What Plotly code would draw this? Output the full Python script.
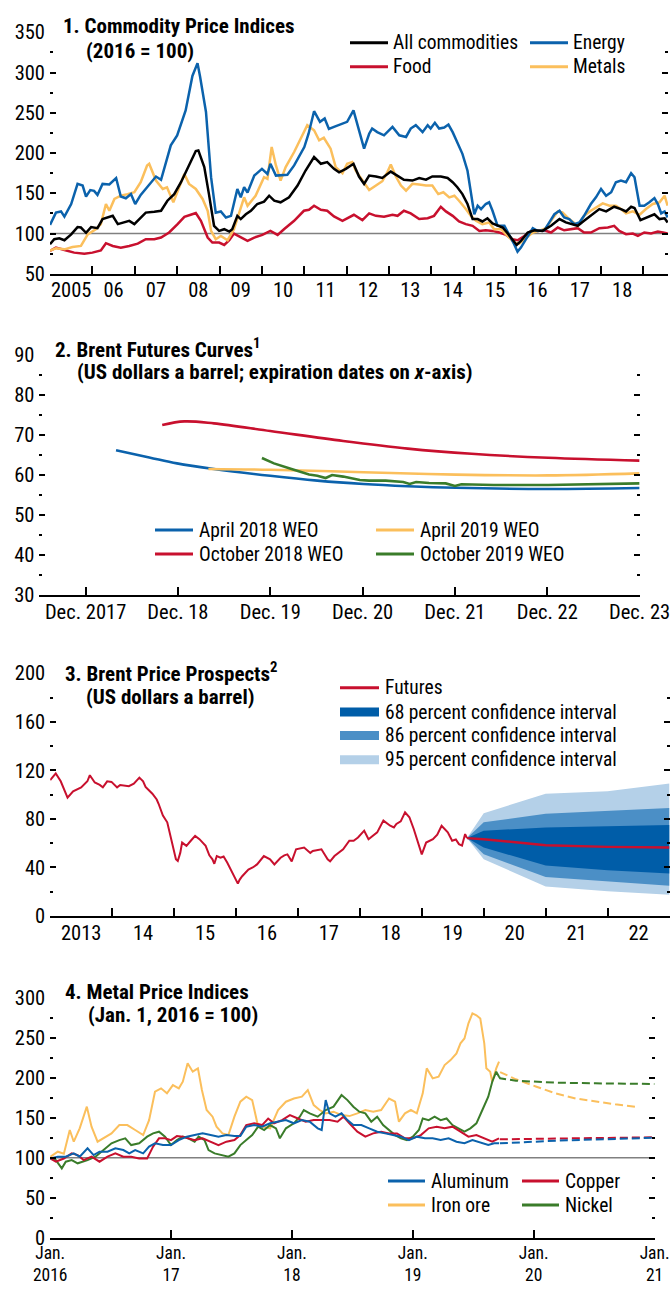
import plotly.graph_objects as go

W, H = 670, 1289
FONT = "Roboto Condensed, Liberation Sans Narrow, Arial Narrow, sans-serif"
TICK_SIZE = 20.5
DATE_SIZE = 17.5
TITLE_SIZE = 21
KEY_SIZE = 19.5

C_BLACK = "#000000"
C_BLUE = "#0b62ac"
C_RED = "#c8102e"
C_ORANGE = "#fbbf5c"
C_GREEN = "#3a7c2a"
C_GRAY = "#808080"
C_FAN68 = "#005da8"
C_FAN86 = "#4b8fc6"
C_FAN95 = "#b4d0e8"

# ---------------------------------------------------------------- panel 1 data
# (decimal year, index 2016 = 100)
ALL_COMMODITIES = [
    (2005.0, 86.7), (2005.1, 93), (2005.22, 94), (2005.34, 91.7), (2005.5, 99), (2005.65, 108),
    (2005.73, 107.5), (2005.85, 101), (2005.97, 108), (2006.12, 106.7), (2006.24, 118), (2006.36, 120),
    (2006.48, 122), (2006.6, 111.7), (2006.75, 113.8), (2006.87, 115.8), (2006.99, 111.7), (2007.14, 120),
    (2007.26, 126), (2007.46, 127), (2007.62, 128.3), (2007.77, 140.8), (2007.93, 149), (2008.09, 163.8),
    (2008.28, 184.6), (2008.44, 202.5), (2008.5, 203.3), (2008.64, 182.5), (2008.75, 149), (2008.87, 109.6),
    (2008.99, 103.3), (2009.11, 105.4), (2009.23, 102.5), (2009.3, 105.4), (2009.42, 122), (2009.5, 118),
    (2009.62, 124), (2009.74, 128.3), (2009.89, 136.7), (2010.05, 139.6), (2010.17, 147), (2010.29, 140.8),
    (2010.44, 138.8), (2010.64, 145), (2010.84, 159.6), (2011.03, 178.3), (2011.23, 195), (2011.39, 186.7),
    (2011.54, 188.8), (2011.7, 180.4), (2011.82, 176), (2011.98, 180.4), (2012.16, 186.7), (2012.29, 170.8),
    (2012.41, 161.7), (2012.53, 172), (2012.69, 170.8), (2012.84, 169), (2013.04, 177), (2013.2, 172),
    (2013.35, 166.7), (2013.55, 165.8), (2013.71, 169), (2013.87, 167), (2014.02, 171), (2014.22, 170.8),
    (2014.38, 169), (2014.5, 163.8), (2014.61, 157.5), (2014.73, 149), (2014.85, 136.7), (2014.97, 118),
    (2015.09, 118), (2015.2, 115), (2015.32, 119), (2015.44, 112.5), (2015.56, 109.6), (2015.68, 107.5),
    (2015.8, 100), (2015.91, 93), (2016.01, 85.8), (2016.11, 90.8), (2016.27, 101.3), (2016.43, 104),
    (2016.62, 103.3), (2016.82, 109.6), (2017.02, 118), (2017.17, 113.8), (2017.33, 111.7), (2017.45, 109.6),
    (2017.6, 115.8), (2017.76, 122), (2017.96, 130.4), (2018.12, 127.5), (2018.31, 133.3), (2018.47, 130.4),
    (2018.59, 127.5), (2018.71, 133.3), (2018.79, 131.7), (2018.93, 116.7), (2019.1, 120), (2019.26, 124),
    (2019.38, 118), (2019.5, 119), (2019.57, 113.8),
]
ENERGY = [
    (2005.0, 110.8), (2005.14, 126), (2005.26, 127.5), (2005.34, 121), (2005.5, 136.7), (2005.65, 161.7),
    (2005.77, 159.6), (2005.85, 145.8), (2005.95, 154), (2006.04, 153), (2006.12, 148), (2006.24, 161.7),
    (2006.4, 161), (2006.56, 169), (2006.67, 146), (2006.79, 143.8), (2006.91, 149), (2007.01, 136.7),
    (2007.14, 148), (2007.3, 158), (2007.5, 170.8), (2007.62, 166.7), (2007.85, 209.6), (2008.0, 222),
    (2008.2, 253), (2008.36, 295.8), (2008.48, 311.7), (2008.54, 295), (2008.68, 251), (2008.8, 170),
    (2008.91, 126), (2009.03, 127.5), (2009.15, 120), (2009.27, 122), (2009.42, 155.4), (2009.5, 145),
    (2009.58, 157.5), (2009.66, 151), (2009.82, 172), (2010.0, 180.4), (2010.13, 174), (2010.2, 186.7),
    (2010.33, 172), (2010.6, 173), (2010.76, 184.6), (2011.0, 207.5), (2011.1, 224), (2011.23, 252),
    (2011.37, 238.8), (2011.48, 243), (2011.58, 230), (2011.7, 232.5), (2011.82, 234.6), (2012.01, 238.8),
    (2012.16, 253), (2012.25, 236.7), (2012.41, 205.4), (2012.53, 224), (2012.6, 230.4), (2012.72, 226),
    (2012.88, 222), (2013.08, 232.5), (2013.24, 222), (2013.4, 220), (2013.51, 230.4), (2013.63, 234.6),
    (2013.79, 226), (2013.91, 234.6), (2013.98, 230.4), (2014.08, 237.5), (2014.18, 230.4), (2014.3, 231.7),
    (2014.4, 235.4), (2014.5, 226), (2014.63, 211.7), (2014.73, 199), (2014.85, 178), (2014.93, 153),
    (2015.01, 124), (2015.09, 134.6), (2015.17, 130.4), (2015.28, 136.7), (2015.36, 138.8), (2015.44, 128.3),
    (2015.56, 109.6), (2015.72, 109.6), (2015.83, 99), (2015.95, 86.7), (2016.03, 77.5), (2016.11, 82.5),
    (2016.23, 93), (2016.39, 106.7), (2016.5, 103.3), (2016.66, 104), (2016.78, 113.8), (2016.9, 124),
    (2017.02, 128.3), (2017.13, 120), (2017.25, 118), (2017.37, 111.7), (2017.49, 113.8), (2017.6, 122),
    (2017.76, 136.7), (2017.88, 145), (2018.0, 155.4), (2018.12, 147), (2018.24, 151.3), (2018.35, 163.8),
    (2018.47, 165.8), (2018.59, 163.8), (2018.71, 175), (2018.79, 170), (2018.91, 134.6), (2019.02, 134.6),
    (2019.14, 138.8), (2019.26, 144), (2019.34, 136.7), (2019.42, 125), (2019.5, 127.5), (2019.57, 120),
]
FOOD = [
    (2005.0, 78.3), (2005.14, 82.5), (2005.34, 79.6), (2005.57, 76.3), (2005.81, 75), (2006.0, 76.3),
    (2006.2, 79), (2006.32, 88), (2006.48, 84.6), (2006.67, 82.5), (2006.87, 84.6), (2007.07, 87.5),
    (2007.26, 93), (2007.46, 93), (2007.62, 95), (2007.81, 101.3), (2008.01, 111.7), (2008.17, 120.8),
    (2008.32, 123.3), (2008.44, 125.4), (2008.56, 115.8), (2008.72, 95), (2008.83, 88.8), (2008.99, 88.8),
    (2009.11, 85.8), (2009.23, 91.7), (2009.34, 100), (2009.5, 95), (2009.66, 90.8), (2009.82, 95),
    (2010.01, 98.3), (2010.2, 103.3), (2010.37, 98.3), (2010.52, 105.4), (2010.76, 115.8), (2010.99, 128.3),
    (2011.11, 129.6), (2011.23, 134.6), (2011.39, 129.6), (2011.54, 128.3), (2011.7, 121.3), (2011.9, 115.8),
    (2012.05, 120), (2012.17, 123.3), (2012.37, 116.7), (2012.53, 125), (2012.69, 122), (2012.88, 120.8),
    (2013.08, 123.3), (2013.2, 122), (2013.35, 128.3), (2013.51, 125), (2013.71, 118), (2013.91, 119),
    (2014.06, 122), (2014.22, 133.3), (2014.34, 127.5), (2014.5, 122), (2014.65, 115), (2014.81, 111.7),
    (2014.97, 109.6), (2015.13, 103.3), (2015.28, 104), (2015.44, 103.3), (2015.6, 101.3), (2015.76, 98.3),
    (2015.91, 93), (2016.03, 91.7), (2016.19, 97), (2016.35, 103.3), (2016.5, 103.3), (2016.66, 104),
    (2016.82, 101.3), (2016.98, 107.5), (2017.13, 104), (2017.29, 105.4), (2017.45, 106.7), (2017.6, 101.3),
    (2017.76, 101.3), (2017.96, 106.7), (2018.16, 107.5), (2018.31, 109.6), (2018.43, 103.3), (2018.59, 99.2),
    (2018.75, 100), (2018.87, 97), (2019.02, 101.3), (2019.18, 100), (2019.34, 102.5), (2019.46, 101.3),
    (2019.57, 100),
]
METALS = [
    (2005.0, 79), (2005.14, 81.7), (2005.34, 80.4), (2005.53, 83.3), (2005.73, 84.6), (2005.89, 99),
    (2006.08, 105.4), (2006.2, 111.7), (2006.32, 136.7), (2006.4, 128.3), (2006.52, 143), (2006.67, 147),
    (2006.83, 149), (2006.99, 151.3), (2007.14, 163.8), (2007.29, 184.6), (2007.34, 186.7), (2007.5, 165.8),
    (2007.66, 155.4), (2007.76, 157.5), (2007.91, 138.8), (2008.01, 153), (2008.17, 174), (2008.28, 161.7),
    (2008.44, 155.4), (2008.6, 143), (2008.72, 128.3), (2008.8, 103.3), (2008.91, 93), (2009.03, 97),
    (2009.19, 91.7), (2009.34, 105.4), (2009.5, 132.5), (2009.58, 145), (2009.66, 134.6), (2009.85, 147),
    (2010.05, 170), (2010.13, 168), (2010.23, 207.5), (2010.33, 184.6), (2010.44, 165.8), (2010.56, 182.5),
    (2010.76, 201.3), (2010.95, 222), (2011.07, 234.6), (2011.23, 228.3), (2011.35, 215.8), (2011.46, 219),
    (2011.62, 205.4), (2011.74, 182.5), (2011.9, 175), (2012.01, 186.7), (2012.13, 188.8), (2012.21, 178.3),
    (2012.37, 165.8), (2012.53, 154), (2012.69, 159.6), (2012.84, 165), (2012.96, 176.3), (2013.04, 185.8),
    (2013.16, 170.8), (2013.28, 159.6), (2013.4, 153.3), (2013.55, 161.7), (2013.71, 160.8), (2013.87, 159.6),
    (2014.02, 159.6), (2014.16, 149), (2014.28, 151.3), (2014.42, 145), (2014.54, 147), (2014.65, 140.8),
    (2014.81, 130.4), (2014.93, 122), (2015.05, 115.8), (2015.2, 111.7), (2015.36, 113.8), (2015.48, 105.4),
    (2015.64, 105.4), (2015.8, 97), (2015.95, 88.8), (2016.07, 87.5), (2016.23, 95), (2016.39, 101.3),
    (2016.54, 103.3), (2016.7, 106.7), (2016.82, 115.8), (2016.98, 127.5), (2017.09, 126.3), (2017.25, 118),
    (2017.45, 109.6), (2017.6, 122), (2017.76, 128.3), (2017.88, 132.5), (2018.04, 137.5), (2018.2, 134.6),
    (2018.35, 134.6), (2018.47, 130.4), (2018.59, 125), (2018.75, 127.5), (2018.91, 123.3), (2019.06, 130.4),
    (2019.22, 136.7), (2019.38, 138.8), (2019.5, 147), (2019.57, 134.6),
]
P1_YEARS = list(range(2005, 2020))
P1_LABELS = ["2005", "06", "07", "08", "09", "10", "11", "12", "13", "14", "15", "16", "17", "18"]

# ---------------------------------------------------------------- panel 2 data
# (expiration date as decimal year, US dollars a barrel)
APR_2018_WEO = [(2018.25, 66.2), (2018.61, 64.4), (2018.91, 62.9), (2019.31, 61.5), (2019.92, 59.8),
                (2020.43, 58.6), (2020.93, 57.75), (2021.41, 57.2), (2021.93, 56.8), (2022.93, 56.5),
                (2023.92, 56.75)]
OCT_2018_WEO = [(2018.75, 72.5), (2018.99, 73.4), (2019.31, 72.9), (2019.92, 71.0), (2020.71, 68.5),
                (2021.41, 66.6), (2022.1, 65.3), (2022.93, 64.3), (2023.92, 63.6)]
APR_2019_WEO = [(2019.25, 61.5), (2019.92, 61.3), (2020.93, 60.7), (2021.93, 60.1), (2022.93, 59.9),
                (2023.92, 60.4)]
OCT_2019_WEO = [(2019.83, 64.25), (2019.96, 62.9), (2020.15, 61.5), (2020.34, 60.1), (2020.43, 59.8),
                (2020.52, 59.25), (2020.59, 60.0), (2020.71, 59.6), (2020.89, 58.75), (2020.99, 58.6),
                (2021.17, 58.6), (2021.36, 58.25), (2021.43, 57.75), (2021.5, 58.25), (2021.64, 58.0),
                (2021.82, 57.9), (2021.92, 57.25), (2021.99, 57.7), (2022.34, 57.5), (2022.93, 57.5),
                (2023.92, 57.9)]
P2_DECEMBERS = [2017.92, 2018.92, 2019.92, 2020.92, 2021.92, 2022.92, 2023.92]
P2_LABELS = ["Dec. 2017", "Dec. 18", "Dec. 19", "Dec. 20", "Dec. 21", "Dec. 22", "Dec. 23"]

# ---------------------------------------------------------------- panel 3 data
BRENT = [
    (2013.0, 112), (2013.09, 117.5), (2013.17, 111), (2013.23, 104), (2013.28, 97.5), (2013.37, 102.8),
    (2013.5, 106), (2013.6, 111), (2013.64, 116), (2013.72, 110), (2013.8, 108), (2013.85, 106),
    (2013.92, 111), (2013.99, 110.5), (2014.08, 106), (2014.13, 108), (2014.27, 107), (2014.35, 109),
    (2014.44, 114), (2014.5, 111), (2014.54, 106.4), (2014.65, 100.8), (2014.72, 96), (2014.75, 92.5),
    (2014.82, 82.8), (2014.89, 77.2), (2014.96, 60.5), (2015.03, 46.7), (2015.06, 45.3), (2015.1, 52),
    (2015.13, 60.5), (2015.2, 57.8), (2015.27, 62), (2015.34, 66), (2015.41, 63.3), (2015.51, 57.8),
    (2015.57, 50), (2015.62, 46.7), (2015.65, 43), (2015.69, 49.4), (2015.75, 48), (2015.8, 49),
    (2015.86, 43.9), (2015.96, 34.2), (2016.03, 26.7), (2016.06, 30), (2016.1, 32.8), (2016.2, 38.3),
    (2016.27, 40), (2016.34, 42.5), (2016.45, 49.4), (2016.55, 46.7), (2016.62, 42.5), (2016.72, 48),
    (2016.78, 50), (2016.83, 50.8), (2016.9, 45), (2016.97, 55), (2017.1, 56.4), (2017.2, 52),
    (2017.24, 53.6), (2017.38, 55), (2017.48, 46.7), (2017.52, 45), (2017.59, 49.4), (2017.73, 55),
    (2017.83, 62), (2017.9, 62), (2017.97, 64.7), (2018.07, 70.3), (2018.14, 63.3), (2018.28, 68.9),
    (2018.38, 78.6), (2018.49, 74.4), (2018.55, 73), (2018.59, 75.8), (2018.66, 78), (2018.73, 85.5),
    (2018.8, 81.4), (2018.87, 71.7), (2018.94, 60.5), (2018.97, 54), (2019.0, 50.8), (2019.07, 60.5),
    (2019.18, 63.3), (2019.25, 67), (2019.32, 74.4), (2019.42, 68.9), (2019.49, 62), (2019.55, 63),
    (2019.6, 59.2), (2019.65, 58), (2019.7, 67.5), (2019.73, 64.2),
]
FAN_T = [2019.73, 2020.0, 2021.0, 2022.0, 2023.0]
FUTURES = [64.2, 63.3, 58.3, 57.0, 56.4]
CI68_HI = [64.2, 70.3, 73.0, 73.9, 75.0]
CI68_LO = [64.2, 56.4, 41.7, 37.8, 35.0]
CI86_HI = [64.2, 77.2, 84.2, 86.4, 88.9]
CI86_LO = [64.2, 50.8, 32.2, 28.6, 25.0]
CI95_HI = [64.2, 84.7, 100.8, 102.8, 109.2]
CI95_LO = [64.2, 46.7, 24.4, 20.3, 17.5]
P3_YEARS = list(range(2013, 2024))
P3_LABELS = ["2013", "14", "15", "16", "17", "18", "19", "20", "21", "22"]

# ---------------------------------------------------------------- panel 4 data
# (decimal year, index Jan. 1, 2016 = 100); *_FCST are the dashed projections
ALUMINUM = [
    (2016.0, 99), (2016.063, 101.3), (2016.129, 101.3), (2016.195, 105.4), (2016.244, 101.3), (2016.309, 111.7),
    (2016.359, 103.3), (2016.408, 107.5), (2016.474, 107.5), (2016.539, 111.7), (2016.605, 109.6),
    (2016.654, 105.4), (2016.703, 109.6), (2016.769, 105.4), (2016.818, 113.8), (2016.867, 118),
    (2016.933, 115.8), (2016.999, 115.8), (2017.064, 122), (2017.13, 126.3), (2017.195, 128.3),
    (2017.261, 130.4), (2017.327, 128.3), (2017.392, 126.3), (2017.458, 128.3), (2017.524, 127),
    (2017.573, 127), (2017.622, 138.8), (2017.688, 140.8), (2017.753, 138.8), (2017.819, 143),
    (2017.885, 145), (2017.95, 147), (2018.016, 143), (2018.082, 147), (2018.147, 145), (2018.213, 136.7),
    (2018.246, 134.6), (2018.279, 172), (2018.311, 155.4), (2018.36, 151.3), (2018.41, 155.4),
    (2018.459, 147), (2018.508, 140.8), (2018.574, 140.8), (2018.639, 136.7), (2018.705, 132.5),
    (2018.771, 130.4), (2018.836, 128.3), (2018.902, 126.3), (2018.968, 122), (2019.033, 126.3),
    (2019.099, 124.2), (2019.164, 124.2), (2019.23, 122), (2019.296, 124.2), (2019.361, 120),
    (2019.427, 118), (2019.493, 122), (2019.558, 118.75), (2019.624, 115.8), (2019.673, 118), (2019.713, 118),
]
ALUMINUM_FCST = [(2019.72, 118), (2020.2, 121.3), (2021.0, 125)]
COPPER = [
    (2016.0, 99), (2016.047, 95), (2016.113, 99), (2016.178, 105.4), (2016.227, 103.3), (2016.277, 97),
    (2016.342, 101.3), (2016.408, 95), (2016.474, 101.3), (2016.539, 105.4), (2016.605, 101.3),
    (2016.67, 101.3), (2016.736, 99), (2016.802, 99), (2016.851, 113.8), (2016.9, 124.2), (2016.95, 124.2),
    (2016.999, 122), (2017.048, 127), (2017.097, 126.3), (2017.146, 124), (2017.195, 122), (2017.261, 124.2),
    (2017.327, 120), (2017.392, 115.8), (2017.458, 120), (2017.524, 122), (2017.573, 128.3),
    (2017.622, 140.8), (2017.688, 143), (2017.753, 140.8), (2017.803, 149), (2017.852, 143),
    (2017.918, 147), (2017.983, 153.3), (2018.049, 149), (2018.114, 145), (2018.18, 147), (2018.246, 147),
    (2018.311, 147), (2018.377, 145), (2018.426, 151.3), (2018.475, 143), (2018.541, 132.5),
    (2018.607, 126.3), (2018.672, 130.4), (2018.738, 132.5), (2018.803, 130.4), (2018.869, 130.4),
    (2018.935, 124.2), (2019.0, 124.2), (2019.066, 128.3), (2019.131, 136.7), (2019.197, 138.8),
    (2019.263, 136.7), (2019.328, 138.8), (2019.394, 132.5), (2019.46, 126.3), (2019.526, 128.3),
    (2019.591, 124.2), (2019.657, 120), (2019.713, 124.2),
]
COPPER_FCST = [(2019.72, 123), (2020.5, 124.2), (2021.0, 125.5)]
IRON_ORE = [
    (2016.0, 101), (2016.063, 107.5), (2016.113, 105), (2016.162, 134.6), (2016.195, 120), (2016.244, 136.7),
    (2016.303, 163.8), (2016.342, 138.8), (2016.392, 120), (2016.441, 124), (2016.507, 130.4),
    (2016.572, 140.8), (2016.638, 140.8), (2016.703, 134.6), (2016.769, 128.3), (2016.818, 147),
    (2016.867, 182.5), (2016.917, 186.7), (2016.966, 180.4), (2017.015, 190.8), (2017.064, 186.7),
    (2017.097, 195), (2017.137, 218), (2017.179, 207.5), (2017.222, 211.7), (2017.255, 184.6),
    (2017.294, 159.6), (2017.343, 151.3), (2017.376, 138.8), (2017.425, 130.4), (2017.474, 128.3),
    (2017.524, 151.3), (2017.573, 170), (2017.622, 176.3), (2017.671, 172), (2017.714, 143),
    (2017.753, 138.8), (2017.819, 136.7), (2017.885, 159.6), (2017.95, 170), (2018.016, 174),
    (2018.082, 176.3), (2018.131, 184.6), (2018.18, 165.8), (2018.229, 159.6), (2018.279, 155.4),
    (2018.344, 157.5), (2018.41, 153.3), (2018.475, 152), (2018.541, 155.4), (2018.607, 159.6),
    (2018.672, 157.5), (2018.738, 159.6), (2018.803, 174), (2018.853, 170), (2018.885, 145),
    (2018.935, 155.4), (2018.984, 159.6), (2019.033, 155.4), (2019.082, 180.4), (2019.115, 211.7),
    (2019.164, 199.2), (2019.213, 201.3), (2019.263, 215.8), (2019.312, 222), (2019.361, 230.4),
    (2019.394, 243), (2019.427, 249), (2019.46, 268), (2019.493, 280.4), (2019.526, 278), (2019.558, 274),
    (2019.591, 243), (2019.608, 211.7), (2019.64, 207.5), (2019.657, 195), (2019.69, 211.7), (2019.713, 220),
]
IRON_ORE_FCST = [(2019.722, 207), (2019.853, 198), (2020.017, 189), (2020.182, 180.4), (2020.346, 174),
                 (2020.51, 170), (2020.674, 166.7), (2020.838, 163.8)]
NICKEL = [
    (2016.0, 99.2), (2016.047, 97), (2016.096, 86.7), (2016.129, 95), (2016.178, 97), (2016.227, 93),
    (2016.309, 97), (2016.375, 101.3), (2016.441, 109.6), (2016.507, 118), (2016.572, 122), (2016.621, 124.2),
    (2016.67, 115.8), (2016.736, 118), (2016.802, 126.3), (2016.851, 130.4), (2016.9, 132.5), (2016.95, 126.3),
    (2016.999, 115.8), (2017.048, 122), (2017.097, 126.3), (2017.146, 124), (2017.195, 120), (2017.228, 126.3),
    (2017.277, 122), (2017.31, 109.6), (2017.36, 105.4), (2017.425, 103.3), (2017.474, 101.3),
    (2017.524, 105.4), (2017.573, 115.8), (2017.622, 122), (2017.671, 128.3), (2017.72, 138.8),
    (2017.77, 134.6), (2017.819, 140.8), (2017.868, 136.7), (2017.9, 124.2), (2017.95, 136.7),
    (2018.016, 143), (2018.065, 151.3), (2018.098, 159.6), (2018.147, 155.4), (2018.213, 151.3),
    (2018.279, 159.6), (2018.344, 163.8), (2018.41, 178.3), (2018.459, 172), (2018.508, 163.8),
    (2018.557, 157.5), (2018.607, 155.4), (2018.656, 145), (2018.705, 151.3), (2018.754, 140.8),
    (2018.803, 134.6), (2018.853, 128.3), (2018.902, 124.2), (2018.951, 122), (2019.0, 126.3),
    (2019.05, 134.6), (2019.082, 149), (2019.131, 147), (2019.18, 151.3), (2019.23, 147), (2019.279, 149),
    (2019.328, 140.8), (2019.377, 136.7), (2019.427, 132.5), (2019.476, 136.7), (2019.526, 143),
    (2019.575, 159.6), (2019.624, 176.3), (2019.657, 195), (2019.69, 207.5), (2019.713, 201.3),
]
NICKEL_FCST = [(2019.713, 201.3), (2019.722, 199.2), (2019.853, 196.3), (2020.182, 193.75),
               (2020.51, 193), (2021.0, 192.1)]
P4_YEARS = [2016, 2017, 2018, 2019, 2020, 2021]
P4_LABELS = ["Jan.<br>2016", "Jan.<br>17", "Jan.<br>18", "Jan.<br>19", "Jan.<br>20", "Jan.<br>21"]

BASELINE = 100


# ---------------------------------------------------------------- layout helpers
def fx(px):
    return px / W


def fy(py):
    return 1 - py / H


def xy(pairs):
    return [p[0] for p in pairs], [p[1] for p in pairs]


# plot areas in pixels: left, right, top, bottom
AREAS = {
    1: (50, 668, 32.3, 273.8),
    2: (39.4, 639.6, 355, 595),
    3: (50.2, 669.5, 673.3, 916),
    4: (50.2, 654.6, 997.7, 1237.7),
}

tickfont = dict(family=FONT, size=TICK_SIZE, color=C_BLACK)


def y_axis(n, rng, dtick, minor):
    l, r, t, b = AREAS[n]
    return dict(
        domain=[fy(b), fy(t)], range=rng, anchor="x" if n == 1 else f"x{n}",
        tickmode="linear", tick0=rng[0], dtick=dtick,
        ticks="inside", ticklen=6, tickwidth=1.6, tickcolor=C_BLACK,
        mirror="ticks", showline=False, showgrid=False, zeroline=False,
        tickfont=tickfont, ticklabelstandoff=4, fixedrange=True, automargin=False,
        minor=dict(tickmode="linear", tick0=rng[0], dtick=minor, ticks="inside",
                   ticklen=3, tickwidth=1.6, tickcolor=C_BLACK, showgrid=False),
    )


def x_axis(n, rng, tickvals, ticktext, ticklen, minor_vals=None, standoff=-2, font=tickfont):
    l, r, t, b = AREAS[n]
    ax = dict(
        domain=[fx(l), fx(r)], range=rng, anchor="y" if n == 1 else f"y{n}",
        tickmode="array", tickvals=tickvals, ticktext=ticktext,
        ticks="inside", ticklen=ticklen, tickwidth=1.6, tickcolor=C_BLACK,
        showline=True, linecolor=C_BLACK, linewidth=1.6, mirror=False,
        showgrid=False, zeroline=False, tickfont=font,
        ticklabelstandoff=standoff, ticklabeloverflow="allow",
        fixedrange=True, automargin=False,
    )
    if minor_vals is not None:
        ax["minor"] = dict(tickmode="array", tickvals=minor_vals, ticks="inside",
                           ticklen=8, tickwidth=1.6, tickcolor=C_BLACK, showgrid=False)
    return ax


fig = go.Figure()


def line(pairs, color, n, width=2.5, dash="solid", shape="linear"):
    xs, ys = xy(pairs)
    fig.add_trace(go.Scatter(
        x=xs, y=ys, mode="lines", line=dict(color=color, width=width, dash=dash, shape=shape),
        xaxis="x" if n == 1 else f"x{n}", yaxis="y" if n == 1 else f"y{n}",
        showlegend=False, hoverinfo="skip",
    ))


# ---------------------------------------------------------------- panel 1
line(FOOD, C_RED, 1)
line(METALS, C_ORANGE, 1)
line(ENERGY, C_BLUE, 1)
line(ALL_COMMODITIES, C_BLACK, 1)

# ---------------------------------------------------------------- panel 2
line(APR_2018_WEO, C_BLUE, 2, width=2.6, shape="spline")
line(OCT_2018_WEO, C_RED, 2, width=2.6, shape="spline")
line(APR_2019_WEO, C_ORANGE, 2, width=2.6, shape="spline")
line(OCT_2019_WEO, C_GREEN, 2, width=2.6)

# ---------------------------------------------------------------- panel 3
for hi, lo, col in [(CI95_HI, CI95_LO, C_FAN95), (CI86_HI, CI86_LO, C_FAN86), (CI68_HI, CI68_LO, C_FAN68)]:
    fig.add_trace(go.Scatter(
        x=FAN_T + FAN_T[::-1], y=hi + lo[::-1], mode="lines", fill="toself",
        fillcolor=col, line=dict(width=0, color=col), xaxis="x3", yaxis="y3",
        showlegend=False, hoverinfo="skip",
    ))
line(BRENT, C_RED, 3, width=2.0)
line(list(zip(FAN_T, FUTURES)), C_RED, 3, width=2.4)

# ---------------------------------------------------------------- panel 4
line(IRON_ORE, C_ORANGE, 4, width=2.0)
line(IRON_ORE_FCST, C_ORANGE, 4, width=2.0, dash="8px,4px")
line(NICKEL, C_GREEN, 4, width=2.0)
line(NICKEL_FCST, C_GREEN, 4, width=2.0, dash="8px,4px")
line(COPPER, C_RED, 4, width=2.0)
line(COPPER_FCST, C_RED, 4, width=2.0, dash="8px,4px")
line(ALUMINUM, C_BLUE, 4, width=2.0)
line(ALUMINUM_FCST, C_BLUE, 4, width=2.0, dash="8px,4px")

# ---------------------------------------------------------------- axes
datefont = dict(family=FONT, size=DATE_SIZE, color=C_BLACK)

fig.update_layout(
    xaxis=x_axis(1, [2005, 2019.58], [y + 0.5 for y in P1_YEARS[:-1]], P1_LABELS, 0, P1_YEARS, standoff=-3),
    yaxis=y_axis(1, [50, 350], 50, 25),
    xaxis2=x_axis(2, [2017.42, 2023.92], P2_DECEMBERS, P2_LABELS, 8),
    yaxis2=y_axis(2, [30, 90], 10, 5),
    xaxis3=x_axis(3, [2013, 2023], [y + 0.5 for y in P3_YEARS[:-1]], P3_LABELS, 0, P3_YEARS),
    yaxis3=y_axis(3, [0, 200], 40, 20),
    xaxis4=x_axis(4, [2016, 2021], P4_YEARS, P4_LABELS, 8, standoff=-2, font=datefont),
    yaxis4=y_axis(4, [0, 300], 50, 25),
)

shapes = []
# index baselines
for n in (1, 4):
    xr = "x" if n == 1 else f"x{n}"
    yr = "y" if n == 1 else f"y{n}"
    shapes.append(dict(type="line", xref=f"{xr} domain", yref=yr, x0=0, x1=1,
                       y0=BASELINE, y1=BASELINE, line=dict(color=C_GRAY, width=1.6), layer="below"))

annotations = []


def text(px, py, s, size=KEY_SIZE):
    annotations.append(dict(x=fx(px), y=fy(py), xref="paper", yref="paper", text=s,
                            showarrow=False, xanchor="left", yanchor="middle",
                            font=dict(family=FONT, size=size, color=C_BLACK)))


def key_line(x0, x1, py, color, width=3):
    shapes.append(dict(type="line", xref="paper", yref="paper", x0=fx(x0), x1=fx(x1),
                       y0=fy(py), y1=fy(py), line=dict(color=color, width=width)))


def key_rect(x0, x1, y0, y1, color):
    shapes.append(dict(type="rect", xref="paper", yref="paper", x0=fx(x0), x1=fx(x1),
                       y0=fy(y1), y1=fy(y0), fillcolor=color, line=dict(width=0)))


# titles
text(61, 26.3, "<b>1. Commodity Price Indices</b>", TITLE_SIZE)
text(84, 50.8, "<b>(2016 = 100)</b>", TITLE_SIZE)
text(52.5, 347.8, "<b>2. Brent Futures Curves<sup>1</sup></b>", TITLE_SIZE)
text(74.5, 372.5, "<b>(US dollars a barrel; expiration dates on <i>x</i>-axis)</b>", TITLE_SIZE)
text(62.5, 671.7, "<b>3. Brent Price Prospects<sup>2</sup></b>", TITLE_SIZE)
text(84, 696.7, "<b>(US dollars a barrel)</b>", TITLE_SIZE)
text(62.5, 991.7, "<b>4. Metal Price Indices</b>", TITLE_SIZE)
text(86, 1015.3, "<b>(Jan. 1, 2016 = 100)</b>", TITLE_SIZE)

# panel 1 key
for (x0, py, col, lab) in [(350, 42.7, C_BLACK, "All commodities"), (530, 42.7, C_BLUE, "Energy"),
                           (350, 66.7, C_RED, "Food"), (530, 66.7, C_ORANGE, "Metals")]:
    key_line(x0, x0 + 38, py, col)
    text(x0 + 41, py, lab)

# panel 2 key
for (x0, py, col, lab) in [(155, 530, C_BLUE, "April 2018 WEO"), (376, 530, C_ORANGE, "April 2019 WEO"),
                           (155, 554, C_RED, "October 2018 WEO"), (376, 554, C_GREEN, "October 2019 WEO")]:
    key_line(x0, x0 + 38, py, col)
    text(x0 + 42, py, lab)

# panel 3 key
key_line(340, 379, 687.7, C_RED)
text(383, 687.7, "Futures")
for (cy, col, lab) in [(712, C_FAN68, "68 percent confidence interval"),
                       (735.5, C_FAN86, "86 percent confidence interval"),
                       (759.7, C_FAN95, "95 percent confidence interval")]:
    key_rect(340, 379, cy - 4.5, cy + 4.5, col)
    text(383, cy, lab)

# panel 4 key
for (x0, py, col, lab) in [(388, 1181, C_BLUE, "Aluminum"), (522, 1181, C_RED, "Copper"),
                           (388, 1205, C_ORANGE, "Iron ore"), (522, 1205, C_GREEN, "Nickel")]:
    key_line(x0, x0 + 37, py, col)
    text(x0 + 41, py, lab)

fig.update_layout(
    width=W, height=H, margin=dict(l=0, r=0, t=0, b=0, autoexpand=False),
    paper_bgcolor="white", plot_bgcolor="white",
    showlegend=False, hovermode=False,
    font=dict(family=FONT, size=TICK_SIZE, color=C_BLACK),
    shapes=shapes, annotations=annotations,
)

fig.write_html(
    "out.html",
    config={"displayModeBar": False},
    post_script="document.body.style.margin='0';document.body.style.overflow='hidden';",
)
